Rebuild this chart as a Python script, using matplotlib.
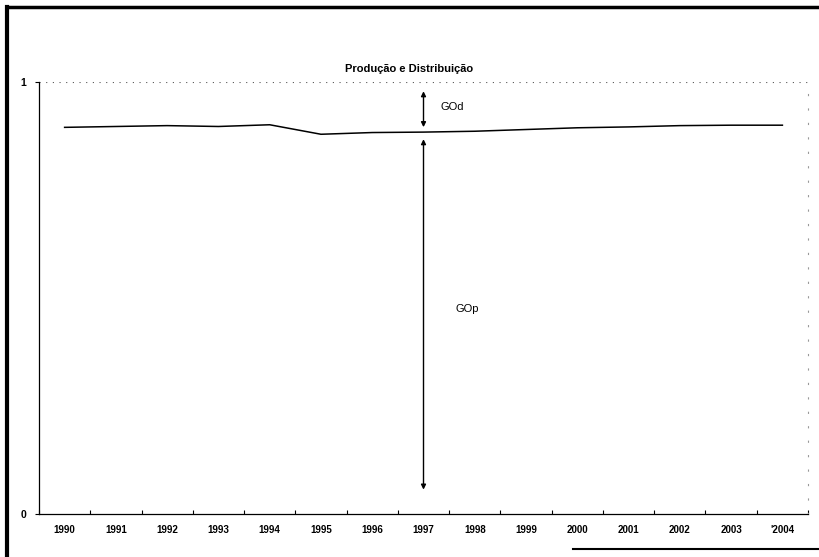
import numpy as np
import matplotlib.pyplot as plt
from matplotlib.lines import Line2D

years = ["1990", "1991", "1992", "1993", "1994", "1995", "1996", "1997",
         "1998", "1999", "2000", "2001", "2002", "2003", "'2004"]
share = [0.895, 0.897, 0.899, 0.897, 0.901, 0.879, 0.883, 0.884,
         0.886, 0.890, 0.894, 0.896, 0.899, 0.900, 0.900]

plt.rcParams['font.family'] = ['Liberation Sans', 'DejaVu Sans']

fig = plt.figure(figsize=(8.19, 5.57), dpi=100)
ax = fig.add_axes([0.0476, 0.0772, 0.939, 0.7756])

x = np.arange(len(years))
ax.plot(x, share, color="black", lw=1.1)

ax.set_xlim(-0.5, len(years) - 0.5)
ax.set_ylim(0, 1)

# dotted gridline at the top (scan leaves it faint)
ax.axhline(1, color="#555555", lw=0.8, ls=(0, (1, 5)))

# arrows for the two components, at 1997
xa = 7
ax.annotate("", xy=(xa, 0.985), xytext=(xa, share[xa] + 0.005),
            arrowprops=dict(arrowstyle="<|-|>", color="black", lw=1,
                            mutation_scale=7))
ax.annotate("", xy=(xa, share[xa] - 0.01), xytext=(xa, 0.05),
            arrowprops=dict(arrowstyle="<|-|>", color="black", lw=1,
                            mutation_scale=7))
ax.text(xa + 0.33, 0.942, "GOd", fontsize=8, va="center")
ax.text(xa + 0.62, 0.474, "GOp", fontsize=8, va="center")

ax.set_xticks(x)
ax.set_xticklabels(years, fontsize=7, fontweight="bold")
ax.set_xticks(np.arange(-0.5, len(years), 1), minor=True)
ax.tick_params(axis="x", which="major", length=0, pad=8)
ax.tick_params(axis="x", which="minor", direction="in", length=3, width=0.8)
ax.set_yticks([0, 1])
ax.set_yticklabels(["0", "1"], fontsize=7.5, fontweight="bold")
ax.tick_params(axis="y", length=3, width=0.8, pad=6)

ax.spines["top"].set_visible(False)
ax.spines["right"].set_color("#999999")
ax.spines["right"].set_linestyle((0, (1, 12)))
ax.spines["left"].set_linewidth(0.9)
ax.spines["bottom"].set_linewidth(0.9)

fig.text(0.5, 0.877, "Produção e Distribuição", ha="center", va="center",
         fontsize=8, fontweight="bold")

# scanned frame around the chart
fig.add_artist(Line2D([0.009, 0.009], [0.0, 0.988], color="black", lw=3,
                      transform=fig.transFigure))
fig.add_artist(Line2D([0.008, 1.0], [0.988, 0.988], color="black", lw=2.5,
                      transform=fig.transFigure))
fig.add_artist(Line2D([0.70, 1.0], [0.015, 0.015], color="black", lw=1.5,
                      transform=fig.transFigure))

fig.savefig("out.png", dpi=100)
